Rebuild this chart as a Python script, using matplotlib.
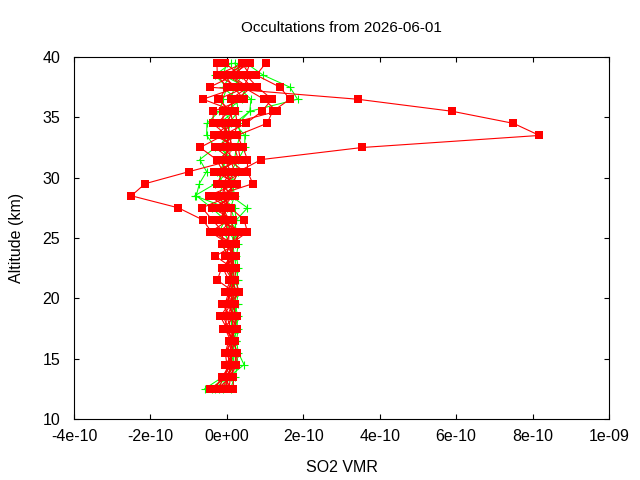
import numpy as np
import matplotlib
matplotlib.use('Agg')
import matplotlib.pyplot as plt

plt.rcParams['font.family'] = ['Liberation Sans', 'DejaVu Sans']
plt.rcParams['font.size'] = 11.5

# altitude grid of the profiles (km)
alt = [12.5, 13.5, 14.5, 15.5, 16.5, 17.5, 18.5, 19.5, 20.5, 21.5,
       22.5, 23.5, 24.5, 25.5, 26.5, 27.5, 28.5, 29.5, 30.5, 31.5,
       32.5, 33.5, 34.5, 35.5, 36.5, 37.5, 38.5, 39.5]

# SO2 VMR in units of 1e-10, one list per occultation, bottom -> top
red_1 = [-0.05, 0.05, 0.10, 0.00, 0.12, 0.05, -0.10, 0.10, 0.00, 0.15, 0.05, 0.20, -0.05, 0.10,
         0.00, -0.20, 0.05, 0.15, 0.30, 0.90, 3.54, 8.18, 7.50, 5.90, 3.42, -0.45, 0.20, 0.50]
red_2 = [-0.20, -0.10, 0.05, 0.15, 0.10, -0.05, 0.00, 0.15, 0.30, 0.05, -0.10, 0.10, 0.20, -0.40,
         -0.63, -1.27, -2.50, -2.14, -0.99, 0.20, -0.10, 0.15, -0.25, 0.05, -0.20, 0.00, -0.25, -0.26]
red_3 = [-0.43, 0.00, 0.20, 0.25, 0.20, 0.15, 0.25, 0.00, 0.10, 0.20, 0.25, -0.05, 0.10, 0.54,
         0.45, 0.10, -0.30, 0.68, 0.54, 0.54, 0.42, 0.27, 1.05, 1.20, 1.65, 1.39, 0.77, 1.02]
red_4 = [0.17, 0.17, 0.00, -0.04, 0.05, 0.27, 0.10, -0.12, 0.20, -0.25, -0.14, 0.25, 0.00, -0.20,
         0.17, -0.38, 0.22, -0.25, -0.10, -0.27, -0.70, -0.10, 0.50, 0.92, 1.18, 0.80, 0.50, 0.60]
red_5 = [-0.30, -0.14, 0.15, 0.10, 0.22, -0.09, 0.20, 0.20, -0.04, 0.10, 0.15, -0.30, 0.25, 0.30,
         -0.20, 0.05, -0.48, 0.27, -0.33, 0.35, 0.30, -0.33, 0.10, 1.31, 0.97, 0.43, 0.60, 0.40]
red_6 = [0.05, 0.10, 0.25, 0.27, 0.15, 0.00, -0.17, 0.05, 0.33, 0.22, 0.00, 0.05, -0.14, -0.10,
         -0.38, -0.65, 0.10, -0.10, 0.10, -0.05, 0.05, 0.00, -0.37, -0.35, 0.45, 0.17, -0.05, 0.55]
red_7 = [-0.15, 0.08, -0.04, 0.18, 0.08, 0.20, 0.27, 0.12, 0.15, 0.05, 0.20, 0.15, 0.15, 0.20,
         0.10, 0.12, -0.15, 0.00, 0.20, 0.10, -0.30, 0.20, 0.27, 0.22, -0.63, 0.30, -0.27, 0.45]
red_8 = [0.10, -0.05, 0.05, 0.05, 0.18, 0.10, 0.00, -0.05, 0.05, 0.12, 0.10, 0.00, 0.05, -0.43,
         0.05, -0.10, 0.15, 0.10, 0.00, -0.20, 0.15, 0.05, -0.10, -0.10, 0.25, 0.65, 0.35, -0.05]
red_9 = [-0.25, 0.12, 0.18, -0.04, 0.12, 0.15, 0.15, 0.05, 0.25, 0.15, -0.05, 0.20, 0.05, 0.05,
         -0.10, -0.05, -0.05, 0.20, -0.20, 0.30, 0.20, -0.20, 0.15, 0.10, -0.22, 0.50, 0.00, 0.50]
red_10 = [0.00, 0.02, 0.12, 0.10, 0.10, 0.05, 0.10, 0.15, 0.10, 0.18, 0.18, 0.10, 0.10, 0.40,
          -0.20, 0.00, 0.00, -0.15, 0.45, 0.05, 0.10, 0.10, 0.00, 0.15, 0.10, 0.55, 0.10, 0.60]

green_1 = [0.10, 0.20, 0.30, 0.25, 0.20, 0.25, 0.30, 0.20, 0.25, 0.30, 0.25, 0.20, 0.15, 0.25,
           0.20, 0.10, 0.20, 0.15, 0.30, 0.20, 0.25, 0.35, 0.30, 0.60, 1.85, 1.65, 0.95, 0.50]
green_2 = [-0.58, -0.10, 0.10, 0.15, 0.20, 0.15, 0.10, 0.20, 0.15, 0.10, 0.05, 0.00, -0.10, -0.20,
           -0.05, -0.40, -0.80, -0.72, -0.53, -0.71, -0.30, -0.53, -0.52, -0.20, -0.10, 0.00, -0.31, 0.12]
green_3 = [-0.20, 0.05, 0.45, 0.30, 0.25, 0.30, 0.20, 0.25, 0.30, 0.25, 0.30, 0.25, 0.30, 0.20,
           0.25, 0.54, 0.10, 0.20, 0.10, 0.30, 0.47, 0.47, 0.20, 0.60, 0.63, 0.30, 0.20, 0.40]
green_4 = [-0.30, 0.00, 0.15, 0.20, 0.15, 0.20, 0.25, 0.15, 0.20, 0.15, 0.20, 0.10, 0.20, 0.10,
           -0.10, 0.00, -0.84, -0.30, 0.05, -0.20, 0.10, -0.10, 0.05, 0.30, 0.25, -0.10, 0.10, 0.30]
green_5 = [-0.10, 0.10, 0.20, 0.10, 0.25, 0.10, 0.15, 0.30, 0.10, 0.20, 0.15, 0.20, 0.05, -0.05,
           0.25, 0.20, -0.20, -0.10, -0.25, 0.05, -0.10, 0.10, -0.20, 0.20, 0.10, 0.20, 0.40, 0.20]
green_6 = [-0.40, -0.05, 0.25, 0.20, 0.10, 0.25, 0.20, 0.10, 0.20, 0.20, 0.10, 0.15, 0.10, 0.30,
           0.05, -0.20, -0.10, 0.25, -0.10, 0.15, -0.20, 0.00, 0.10, -0.05, 0.40, 0.50, -0.10, 0.00]

red_profiles = [red_1, red_2, red_3, red_4, red_5, red_6, red_7, red_8, red_9, red_10]
green_profiles = [green_1, green_2, green_3, green_4, green_5, green_6]

xticks = [-4e-10, -2e-10, 0, 2e-10, 4e-10, 6e-10, 8e-10, 1e-9]
xticklabels = ['-4e-10', '-2e-10', '0e+00', '2e-10', '4e-10', '6e-10', '8e-10', '1e-09']
yticks = [10, 15, 20, 25, 30, 35, 40]

fig = plt.figure(figsize=(6.4, 4.8), dpi=100)
ax = fig.add_axes([74 / 640, 1 - 419 / 480, 535 / 640, 362 / 480])

# green crosses underneath, red squares on top
for p in green_profiles:
    ax.plot(np.array(p) * 1e-10, alt, color='#00ff00', lw=0.75,
            marker='+', ms=5.5, mew=0.8)
for p in red_profiles:
    ax.plot(np.array(p) * 1e-10, alt, color='#ff0000', lw=0.8,
            marker='s', ms=5.5, mew=0)

ax.set_xlim(-4e-10, 1e-9)
ax.set_ylim(10, 40)
ax.set_xticks(xticks)
ax.set_xticklabels(xticklabels)
ax.set_yticks(yticks)
ax.tick_params(direction='in', length=3.5, width=0.8, top=True, right=True)
ax.tick_params(axis='x', pad=7)
ax.tick_params(axis='y', pad=10)
for s in ax.spines.values():
    s.set_linewidth(0.8)

ax.set_title('Occultations from 2026-06-01', fontsize=11, pad=18)
ax.set_xlabel('SO2 VMR', labelpad=12)
ax.set_ylabel('Altitude (km)', labelpad=13)

fig.savefig('out.png', dpi=100)
